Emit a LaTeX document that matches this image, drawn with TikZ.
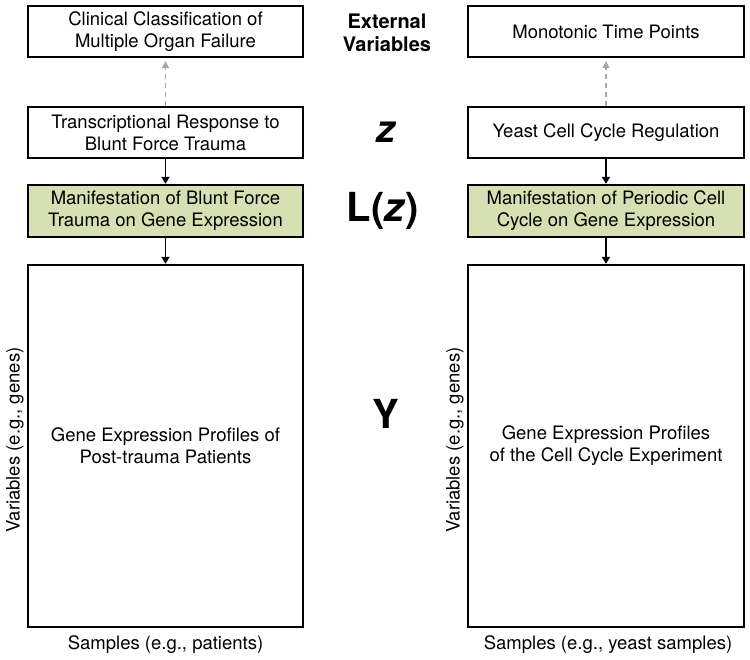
\documentclass[tikz,border=0pt]{standalone}
\usepackage{fontspec}
\setmainfont{TeX Gyre Heros}
\usetikzlibrary{arrows.meta}

\definecolor{manigreen}{RGB}{214,224,178}

\tikzset{
    infobox/.style={draw, line width=2.3pt, rectangle, align=center, minimum width=275pt,
        inner sep=0pt, font=\fontsize{18.5}{22}\selectfont},
    databox/.style={infobox, minimum height=362pt},
    axislabel/.style={font=\fontsize{18.5}{22}\selectfont, inner sep=0pt},
    tierlabel/.style={font=\fontsize{40}{44}\selectfont\bfseries, inner sep=0pt},
    solidarrow/.style={line width=1.8pt, -{Triangle[length=7pt,width=8pt]}},
    dashedarrow/.style={line width=1.3pt, gray!70, dash pattern=on 5pt off 4pt,
        -{Triangle[length=7pt,width=7pt]}, shorten >=3pt}
}

\begin{document}
\begin{tikzpicture}[x=1pt, y=-1pt]
    \useasboundingbox (0,0) rectangle (750,660);

    % left column: blunt force trauma
    \node[infobox, minimum height=51pt] (traumaext) at (165.5,31.5) {Clinical Classification of\\Multiple Organ Failure};
    \node[infobox, minimum height=51pt] (traumaz) at (165.5,132.5) {Transcriptional Response to\\Blunt Force Trauma};
    \node[infobox, minimum height=52pt, fill=manigreen] (traumalz) at (165.5,211) {Manifestation of Blunt Force\\Trauma on Gene Expression};
    \node[databox] (traumay) at (165.5,446) {Gene Expression Profiles of\\Post-trauma Patients};
    \node[axislabel, rotate=90] (traumavar) at (15,440) {Variables (e.g., genes)};
    \node[axislabel] (traumasamp) at (165.5,645) {Samples (e.g., patients)};

    % right column: yeast cell cycle
    \node[infobox, minimum width=276pt, minimum height=51pt] (yeastext) at (606,31.5) {Monotonic Time Points};
    \node[infobox, minimum width=276pt, minimum height=51pt] (yeastz) at (606,132.5) {Yeast Cell Cycle Regulation};
    \node[infobox, minimum width=276pt, minimum height=52pt, fill=manigreen] (yeastlz) at (606,211) {Manifestation of Periodic Cell\\Cycle on Gene Expression};
    \node[databox, minimum width=276pt] (yeasty) at (606,446) {Gene Expression Profiles\\of the Cell Cycle Experiment};
    \node[axislabel, rotate=90] (yeastvar) at (455,440) {Variables (e.g., genes)};
    \node[axislabel] (yeastsamp) at (608,645) {Samples (e.g., yeast samples)};

    % middle labels
    \node[font=\fontsize{20}{23}\selectfont\bfseries, align=center, inner sep=0pt] (extlabel) at (387,33) {External\\Variables};
    \node[tierlabel, font=\fontsize{38}{42}\selectfont\bfseries\itshape] (zlabel) at (386,132) {z};
    \node[tierlabel] (lzlabel) at (383,211) {L(\textit{z})};
    \node[tierlabel] (ylabel) at (386,414) {Y};

    % connectors
    \draw[dashedarrow] (traumaz) -- (traumaext);
    \draw[solidarrow] (traumaz) -- (traumalz);
    \draw[solidarrow] (traumalz) -- (traumay);
    \draw[dashedarrow] (yeastz) -- (yeastext);
    \draw[solidarrow] (yeastz) -- (yeastlz);
    \draw[solidarrow] (yeastlz) -- (yeasty);
\end{tikzpicture}
\end{document}
